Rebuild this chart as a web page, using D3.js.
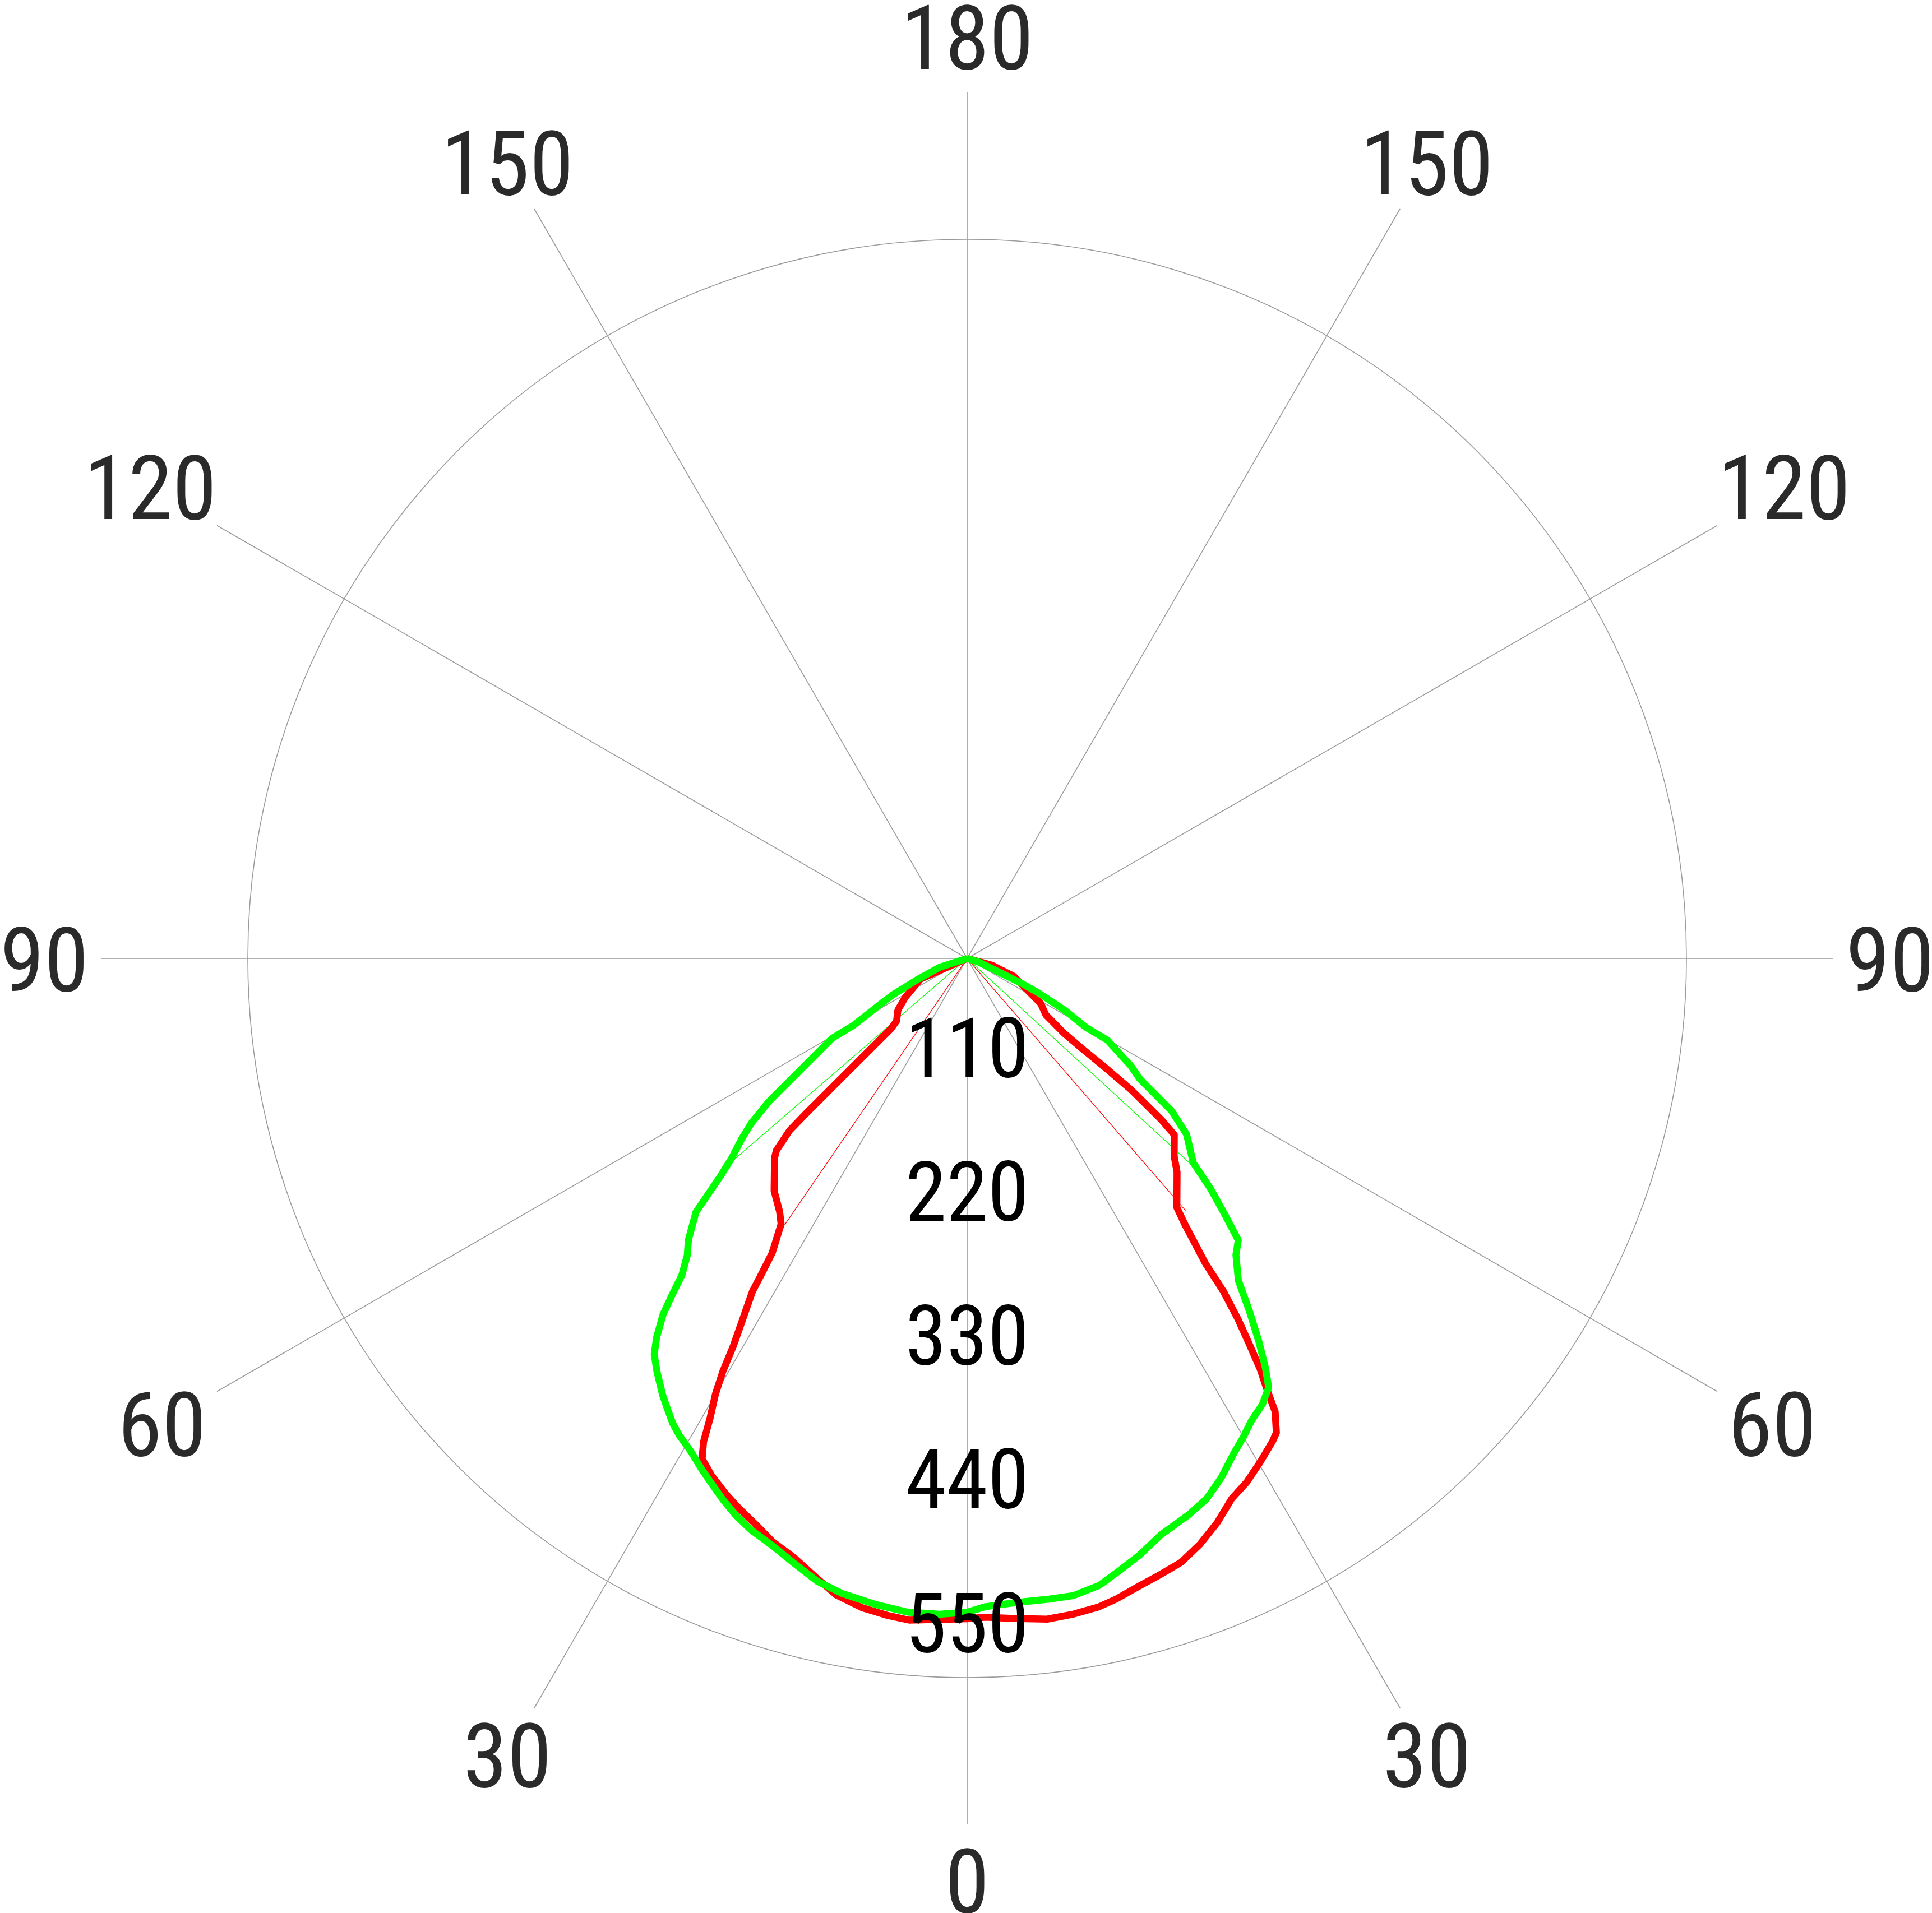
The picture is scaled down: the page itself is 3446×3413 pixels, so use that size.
<!DOCTYPE html>
<html>
<head>
<meta charset="utf-8">
<style>
  html, body { margin: 0; padding: 0; background: #fff; }
  svg { display: block; }
  .lbl { font-family: "Liberation Sans Narrow", "Arial Narrow", "Roboto Condensed", "Liberation Sans", sans-serif; }
</style>
</head>
<body>
<div id="chart"></div>
<script src="https://cdn.jsdelivr.net/npm/d3@7/dist/d3.min.js"></script>
<script>
// polar grid
const gridAngles = [0, 30, 60, 90, 120, 150, 180];
const ringValues = [110, 220, 330, 440, 550];
const maxValue = 550;

// red plane, gamma in degrees from nadir, left half and right half
const redLeftAngles = [0, 2.4, 5, 7, 9.2, 11.6, 13.8, 16.1, 18.5, 20.5, 22.6, 24.3, 26.3, 27.9, 28.6, 29.2, 30, 30.6, 31.1, 32.8, 33.1, 33.5, 35, 36.5, 39.7, 44, 44.8, 45.9, 46.1, 46.3, 46.7, 47.3, 48.5, 53.3, 57.8, 66.2, 90];
const redLeftValues = [505, 506, 508, 506, 503, 497, 487, 477, 470, 462, 455, 449, 441, 433, 421, 403, 385, 367, 346, 303, 287, 270, 248, 241, 231, 212, 207, 189, 170, 143, 108, 79, 72, 66, 56, 39, 0];
const redRightAngles = [0, 1.6, 4, 6.9, 9.2, 11.5, 13.1, 15.2, 17.3, 19.5, 21.7, 23.9, 26.1, 28.1, 30.1, 32.3, 33.1, 34.2, 34.8, 35.5, 36.2, 36.9, 37.6, 38, 39.3, 40.1, 44.5, 46.3, 49.6, 50.3, 51.3, 51.7, 51.9, 52.3, 54.4, 58.5, 62, 69.2, 74.6, 90];
const redRightValues = [505, 504, 506, 509, 508, 506, 503, 498, 494, 490, 482, 472, 460, 454, 446, 437, 433, 419, 402, 386, 365, 345, 321, 296, 263, 249, 229, 219, 208, 193, 161, 133, 112, 94, 74, 66, 53, 38, 20, 0];

// green plane
const greenLeftAngles = [0, 2.4, 5.2, 8.1, 11.1, 13.5, 16, 18.4, 20.8, 22.6, 24.3, 26.1, 27.5, 29.3, 31.1, 32.3, 33.4, 34.9, 36.9, 38.3, 39.3, 40.5, 41.2, 42, 43.3, 44.7, 46.9, 48.6, 49.7, 51.3, 52.6, 54.1, 54.7, 57.1, 59.4, 59.5, 62.6, 63.8, 67.1, 72.1, 90];
const greenLeftValues = [500, 502, 502, 499, 495, 490, 481, 473, 467, 461, 454, 446, 440, 432, 426, 421, 415, 407, 395, 386, 375, 358, 343, 326, 312, 303, 284, 251, 236, 221, 208, 188, 177, 142, 120, 101, 72, 64, 41, 22, 0];
const greenRightAngles = [0, 1.6, 4.5, 7.3, 9.5, 11.9, 14.1, 16.1, 18.6, 21.7, 23.9, 26.1, 28.3, 29.9, 31.6, 33.5, 35.1, 36.1, 37.3, 38.7, 40.1, 42.2, 43.9, 45.1, 46.6, 47.9, 49.9, 51.3, 53.3, 55.1, 56.7, 59.8, 59.9, 62, 64.2, 65.4, 67.2, 73, 90];
const greenRightValues = [500, 496, 494, 494, 494, 490, 482, 475, 465, 458, 452, 442, 430, 423, 415, 409, 401, 387, 368, 345, 322, 306, 299, 279, 256, 233, 222, 215, 195, 161, 150, 124, 105, 85, 61, 46, 24, 9, 0];

// half-intensity (beam) lines, signed gamma (left < 0)
const redBeamAngles = [-34.4, 40.9];
const redBeamValues = [247, 255];
const greenBeamAngles = [-49.2, 47.4];
const greenBeamValues = [235, 233];

const width = 3446;
const height = 3413;
const cx = 1725;
const cy = 1710;
const spokeLength = 1545;
const labelGap = 1567;
const gridColor = "#9a9a9a";

const r = d3.scaleLinear().domain([0, maxValue]).range([0, 1283]);

// signed gamma -> angle for d3.lineRadial (clockwise from 12 o'clock)
const toRad = (gamma) => Math.PI - (gamma * Math.PI) / 180;
const polar = (gamma, radius) => {
  const a = toRad(gamma);
  return [Math.sin(a) * radius, -Math.cos(a) * radius];
};

const svg = d3
  .select("#chart")
  .append("svg")
  .attr("width", width)
  .attr("height", height);

svg.append("rect").attr("width", width).attr("height", height).attr("fill", "#fff");

const g = svg.append("g").attr("transform", `translate(${cx},${cy})`);

// spokes
const spokes = [];
gridAngles.forEach((a) => {
  spokes.push(a === 180 ? 180 : -a);
  if (a !== 0 && a !== 180) spokes.push(a);
});

g.selectAll(".spoke")
  .data(spokes)
  .enter()
  .append("line")
  .attr("class", "spoke")
  .attr("x1", 0)
  .attr("y1", 0)
  .attr("x2", (d) => polar(d, spokeLength)[0])
  .attr("y2", (d) => polar(d, spokeLength)[1])
  .attr("stroke", gridColor)
  .attr("stroke-width", 1.6);

// only the outer ring is drawn
g.append("circle")
  .attr("r", r(maxValue))
  .attr("fill", "none")
  .attr("stroke", gridColor)
  .attr("stroke-width", 1.6);

// angle labels, box edge kept at a fixed distance from the centre
const angleFont = 160;
const angleCap = angleFont * 0.72;
g.selectAll(".angle-label")
  .data(spokes)
  .enter()
  .append("text")
  .attr("class", "lbl angle-label")
  .attr("font-size", angleFont)
  .attr("fill", "#2a2a2a")
  .attr("text-anchor", "middle")
  .text((d) => Math.abs(d))
  .each(function (d) {
    const w = this.getBBox().width;
    const a = toRad(d);
    const ux = Math.sin(a);
    const uy = -Math.cos(a);
    const dx = Math.abs(ux) > 1e-6 ? w / 2 / Math.abs(ux) : Infinity;
    const dy = Math.abs(uy) > 1e-6 ? angleCap / 2 / Math.abs(uy) : Infinity;
    const dist = labelGap + 20 * Math.pow(uy, 8) + Math.min(dx, dy);
    d3.select(this)
      .attr("x", ux * dist)
      .attr("y", uy * dist + angleCap / 2);
  });

// beam lines
const beams = [
  { color: "#ff0000", angles: redBeamAngles, values: redBeamValues },
  { color: "#00ff00", angles: greenBeamAngles, values: greenBeamValues },
];
beams.forEach((b) => {
  g.selectAll(null)
    .data(d3.zip(b.angles, b.values))
    .enter()
    .append("line")
    .attr("x1", 0)
    .attr("y1", 0)
    .attr("x2", (d) => polar(d[0], r(d[1]))[0])
    .attr("y2", (d) => polar(d[0], r(d[1]))[1])
    .attr("stroke", b.color)
    .attr("stroke-width", 1.3);
});

// curves
const radialLine = d3
  .lineRadial()
  .angle((d) => toRad(d[0]))
  .radius((d) => r(d[1]));

function halves(leftA, leftV, rightA, rightV) {
  const left = d3.zip(leftA.map((a) => -a), leftV).reverse();
  const right = d3.zip(rightA, rightV);
  return left.concat(right.slice(1));
}

const series = [
  { color: "#ff0000", points: halves(redLeftAngles, redLeftValues, redRightAngles, redRightValues) },
  { color: "#00ff00", points: halves(greenLeftAngles, greenLeftValues, greenRightAngles, greenRightValues) },
];

g.selectAll(".curve")
  .data(series)
  .enter()
  .append("path")
  .attr("class", "curve")
  .attr("d", (d) => radialLine(d.points))
  .attr("fill", "none")
  .attr("stroke", (d) => d.color)
  .attr("stroke-width", 12.5)
  .attr("stroke-linejoin", "round");

// ring value labels on the lower vertical axis
g.selectAll(".ring-label")
  .data(ringValues)
  .enter()
  .append("text")
  .attr("class", "lbl ring-label")
  .attr("x", 0)
  .attr("y", (d) => r(d) - 45)
  .attr("text-anchor", "middle")
  .attr("font-size", 149)
  .attr("fill", "#000")
  .text((d) => d);
</script>
</body>
</html>
